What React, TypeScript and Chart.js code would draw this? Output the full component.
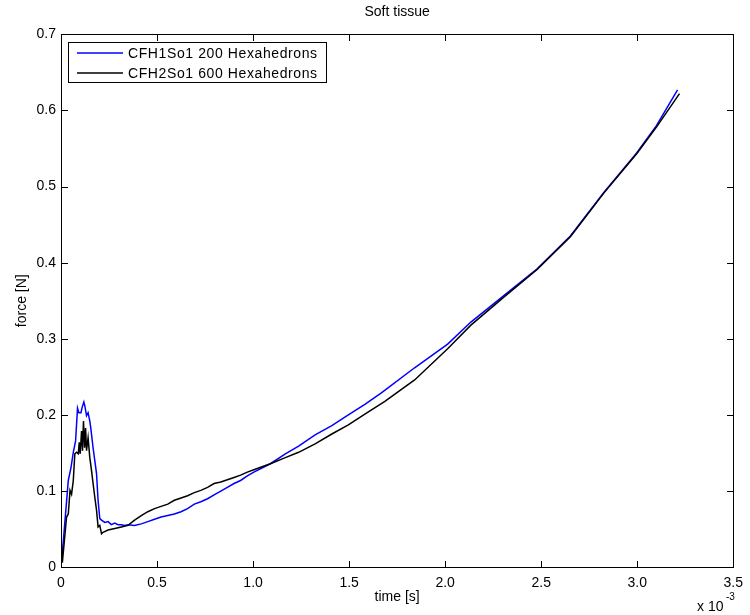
import React, { useEffect, useRef } from "react";
import { Chart, registerables } from "chart.js";

Chart.register(...registerables);

// time in units of 1e-3 s
const blueTime = [
  0.004, 0.021, 0.038, 0.052, 0.064, 0.076, 0.086, 0.093, 0.104, 0.11, 0.119, 0.124, 0.133, 0.141, 0.15, 0.155,
  0.167, 0.176, 0.185, 0.193, 0.202, 0.211, 0.228, 0.245, 0.262, 0.28, 0.297, 0.314, 0.331, 0.349, 0.383, 0.418,
  0.452, 0.487, 0.521, 0.556, 0.59, 0.625, 0.659, 0.694, 0.728, 0.763, 0.797, 0.832, 0.866, 0.901, 0.935, 0.97,
  1.004, 1.09, 1.168, 1.237, 1.323, 1.41, 1.496, 1.582, 1.668, 1.841, 2.013, 2.134, 2.307, 2.479, 2.652, 2.825,
  2.997, 3.1, 3.21,
];
const blueForce = [
  0.01, 0.062, 0.114, 0.131, 0.151, 0.166, 0.209, 0.203, 0.203, 0.21, 0.217, 0.212, 0.199, 0.203, 0.192, 0.183,
  0.157, 0.14, 0.123, 0.088, 0.064, 0.062, 0.059, 0.06, 0.056, 0.058, 0.056, 0.056, 0.055, 0.056, 0.055, 0.057,
  0.06, 0.063, 0.066, 0.068, 0.07, 0.073, 0.077, 0.083, 0.086, 0.09, 0.095, 0.1, 0.105, 0.11, 0.114, 0.12,
  0.125, 0.136, 0.149, 0.159, 0.174, 0.186, 0.2, 0.214, 0.229, 0.262, 0.293, 0.322, 0.357, 0.392, 0.435, 0.492,
  0.544, 0.58, 0.627,
];
const blackTime = [
  0.0, 0.007, 0.021, 0.029, 0.038, 0.047, 0.055, 0.064, 0.072, 0.081, 0.09, 0.095, 0.1, 0.107, 0.112, 0.117,
  0.123, 0.128, 0.133, 0.141, 0.15, 0.159, 0.167, 0.176, 0.185, 0.193, 0.202, 0.211, 0.219, 0.245, 0.28, 0.314,
  0.349, 0.383, 0.418, 0.452, 0.487, 0.521, 0.556, 0.59, 0.625, 0.659, 0.694, 0.728, 0.763, 0.797, 0.832, 0.866,
  0.901, 0.935, 0.97, 1.004, 1.09, 1.168, 1.237, 1.323, 1.41, 1.496, 1.582, 1.686, 1.841, 2.013, 2.134, 2.307,
  2.479, 2.652, 2.825, 2.997, 3.1, 3.22,
];
const blackForce = [
  0.04, 0.006, 0.044, 0.066, 0.07, 0.101, 0.096, 0.114, 0.149, 0.151, 0.149, 0.164, 0.149, 0.179, 0.153, 0.192,
  0.157, 0.183, 0.153, 0.17, 0.144, 0.127, 0.11, 0.092, 0.075, 0.053, 0.055, 0.044, 0.046, 0.049, 0.051, 0.053,
  0.055, 0.062, 0.068, 0.073, 0.077, 0.08, 0.083, 0.088, 0.091, 0.094, 0.098, 0.101, 0.105, 0.11, 0.112, 0.115,
  0.118, 0.121, 0.125, 0.128, 0.136, 0.144, 0.151, 0.162, 0.175, 0.187, 0.201, 0.218, 0.246, 0.287, 0.318, 0.355,
  0.391, 0.434, 0.491, 0.543, 0.578, 0.622,
];

const seriesLabels = ["CFH1So1 200 Hexahedrons", "CFH2So1 600 Hexahedrons"];
const seriesColors = ["#0000ff", "#000000"];
const xTickValues = [0, 0.5, 1, 1.5, 2, 2.5, 3, 3.5];
const yTickValues = [0, 0.1, 0.2, 0.3, 0.4, 0.5, 0.6, 0.7];

const FONT = "'Liberation Sans', Arial, Helvetica, sans-serif";

const matlabAxesPlugin = {
  id: "matlabAxes",
  afterDraw(chart: any) {
    const { ctx, chartArea } = chart;
    const { left, right, top, bottom } = chartArea;
    const xs = chart.scales.x;
    const ys = chart.scales.y;
    const L = Math.round(left) + 0.5;
    const R = Math.round(right) + 0.5;
    const T = Math.round(top) + 0.5;
    const B = Math.round(bottom) + 0.5;
    const tl = 6.5;
    ctx.save();
    ctx.strokeStyle = "#000";
    ctx.lineWidth = 1;
    ctx.beginPath();
    for (const v of xTickValues) {
      const px = Math.round(xs.getPixelForValue(v)) + 0.5;
      ctx.moveTo(px, B);
      ctx.lineTo(px, B - tl);
      ctx.moveTo(px, T);
      ctx.lineTo(px, T + tl);
    }
    for (const v of yTickValues) {
      const py = Math.round(ys.getPixelForValue(v)) + 0.5;
      ctx.moveTo(L, py);
      ctx.lineTo(L + tl, py);
      ctx.moveTo(R, py);
      ctx.lineTo(R - tl, py);
    }
    ctx.stroke();
    ctx.strokeRect(L, T, R - L, B - T);

    // legend
    const lx = 68.5, ly = 42.5, lw = 258, lh = 40;
    ctx.fillStyle = "#fff";
    ctx.fillRect(lx, ly, lw, lh);
    ctx.strokeStyle = "#000";
    ctx.lineWidth = 1;
    ctx.strokeRect(lx, ly, lw, lh);
    for (let i = 0; i < seriesLabels.length; i++) {
      const yy = Math.round(53 + i * 19.6);
      ctx.save();
      ctx.beginPath();
      ctx.strokeStyle = seriesColors[i];
      ctx.lineWidth = 1.6;
      ctx.moveTo(77, yy);
      ctx.lineTo(123, yy);
      ctx.stroke();
      ctx.restore();
      ctx.fillStyle = "#000";
      ctx.font = `14px ${FONT}`;
      ctx.textBaseline = "middle";
      ctx.textAlign = "left";
      try { (ctx as any).letterSpacing = "0.6px"; } catch (e) {}
      ctx.fillText(seriesLabels[i], 128, yy + 1);
      try { (ctx as any).letterSpacing = "0px"; } catch (e) {}
    }

    // exponent label
    ctx.fillStyle = "#000";
    ctx.textBaseline = "middle";
    ctx.textAlign = "left";
    ctx.font = `14px ${FONT}`;
    ctx.fillText("x 10", 697, 607);
    ctx.font = `10px ${FONT}`;
    ctx.fillText("-3", 726, 597);
    ctx.restore();
  },
};

export default function App() {
  const ref = useRef<HTMLCanvasElement | null>(null);
  useEffect(() => {
    if (!ref.current) return;
    const chart = new Chart(ref.current, {
      type: "line",
      data: {
        datasets: [
          {
            label: seriesLabels[0],
            data: blueTime.map((t, i) => ({ x: t, y: blueForce[i] })),
            borderColor: seriesColors[0],
            backgroundColor: seriesColors[0],
            borderWidth: 1.5,
            pointRadius: 0,
            tension: 0,
            fill: false,
            order: 1,
          },
          {
            label: seriesLabels[1],
            data: blackTime.map((t, i) => ({ x: t, y: blackForce[i] })),
            borderColor: seriesColors[1],
            backgroundColor: seriesColors[1],
            borderWidth: 1.5,
            pointRadius: 0,
            tension: 0,
            fill: false,
            order: 0,
          },
        ],
      },
      options: {
        animation: false,
        responsive: false,
        maintainAspectRatio: false,
        devicePixelRatio: 1,
        layout: { padding: { left: 0, right: 13, top: 0, bottom: 0 } },
        plugins: {
          legend: { display: false },
          tooltip: { enabled: false },
          title: {
            display: true,
            text: "Soft tissue",
            color: "#000",
            fullSize: false,
            font: { family: FONT, size: 14, weight: "normal" },
            padding: { top: 3.6, bottom: 13.8 },
          },
        },
        scales: {
          x: {
            type: "linear",
            min: 0,
            max: 3.5,
            afterFit: (s: any) => { s.height = 47.7; },
            afterBuildTicks: (s: any) => { s.ticks = xTickValues.map((v) => ({ value: v })); },
            grid: { display: false, drawTicks: false },
            border: { display: false },
            ticks: {
              color: "#000",
              padding: 7,
              maxRotation: 0,
              autoSkip: false,
              font: { family: FONT, size: 14 },
            },
            title: {
              display: true,
              text: "time [s]",
              color: "#000",
              font: { family: FONT, size: 14 },
              padding: { top: 0, bottom: 9.6 },
            },
          },
          y: {
            type: "linear",
            min: 0,
            max: 0.7,
            afterFit: (s: any) => { s.width = 61; },
            afterBuildTicks: (s: any) => { s.ticks = yTickValues.map((v) => ({ value: v })); },
            grid: { display: false, drawTicks: false },
            border: { display: false },
            ticks: {
              color: "#000",
              padding: 5,
              autoSkip: false,
              font: { family: FONT, size: 14 },
            },
            title: {
              display: true,
              text: "force [N]",
              color: "#000",
              font: { family: FONT, size: 14 },
              padding: { top: 13.6, bottom: 0 },
            },
          },
        },
      },
      plugins: [matlabAxesPlugin],
    } as any);
    return () => chart.destroy();
  }, []);
  return (
    <div style={{ position: "absolute", left: 0, top: 0, width: 750, height: 615, background: "#fff" }}>
      <canvas ref={ref} width={750} height={615} style={{ width: 750, height: 615, display: "block" }} />
    </div>
  );
}
